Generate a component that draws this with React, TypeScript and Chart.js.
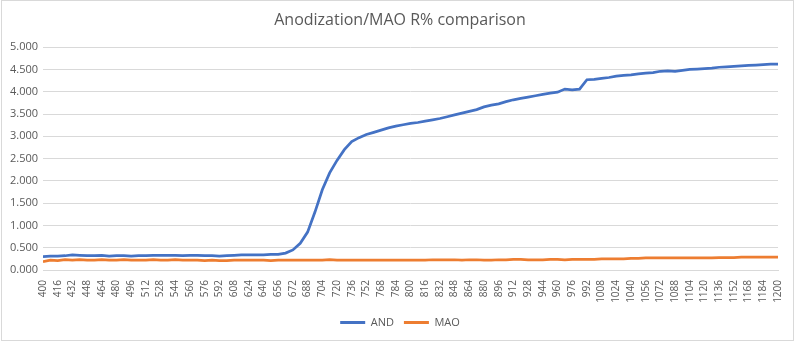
import React, { useEffect, useRef } from "react";
import { Chart, registerables } from "chart.js";

Chart.register(...registerables);

const TITLE = "Anodization/MAO R% comparison";

const WAVELENGTHS = [
  400, 408, 416, 424, 432, 440, 448, 456, 464, 472, 480, 488, 496, 504, 512, 520, 528, 536, 544, 552,
  560, 568, 576, 584, 592, 600, 608, 616, 624, 632, 640, 648, 656, 664, 672, 680, 688, 696, 704, 712,
  720, 728, 736, 744, 752, 760, 768, 776, 784, 792, 800, 808, 816, 824, 832, 840, 848, 856, 864, 872,
  880, 888, 896, 904, 912, 920, 928, 936, 944, 952, 960, 968, 976, 984, 992, 1000, 1008, 1016, 1024, 1032,
  1040, 1048, 1056, 1064, 1072, 1080, 1088, 1096, 1104, 1112, 1120, 1128, 1136, 1144, 1152, 1160, 1168, 1176, 1184, 1192,
  1200,
];

const AND = [
  0.30, 0.31, 0.31, 0.32, 0.34, 0.33, 0.32, 0.32, 0.33, 0.31, 0.32, 0.32, 0.31, 0.32, 0.32, 0.33, 0.33, 0.33, 0.33, 0.32,
  0.33, 0.33, 0.32, 0.32, 0.31, 0.32, 0.33, 0.34, 0.34, 0.34, 0.34, 0.35, 0.35, 0.38, 0.45, 0.60, 0.85, 1.30, 1.80, 2.18,
  2.46, 2.70, 2.88, 2.97, 3.04, 3.09, 3.14, 3.19, 3.23, 3.26, 3.29, 3.31, 3.34, 3.37, 3.40, 3.44, 3.48, 3.52, 3.56, 3.60,
  3.66, 3.70, 3.73, 3.78, 3.82, 3.85, 3.88, 3.91, 3.94, 3.97, 3.99, 4.06, 4.04, 4.06, 4.27, 4.28, 4.30, 4.32, 4.35, 4.37,
  4.38, 4.40, 4.42, 4.43, 4.46, 4.47, 4.46, 4.48, 4.50, 4.51, 4.52, 4.53, 4.55, 4.56, 4.57, 4.58, 4.59, 4.60, 4.61, 4.62,
  4.62,
];

const MAO = [
  0.19, 0.22, 0.21, 0.23, 0.22, 0.23, 0.22, 0.22, 0.23, 0.22, 0.22, 0.23, 0.22, 0.22, 0.22, 0.23, 0.22, 0.22, 0.23, 0.22,
  0.22, 0.22, 0.21, 0.22, 0.21, 0.21, 0.22, 0.22, 0.22, 0.22, 0.22, 0.21, 0.22, 0.22, 0.22, 0.22, 0.22, 0.22, 0.22, 0.23,
  0.22, 0.22, 0.22, 0.22, 0.22, 0.22, 0.22, 0.22, 0.22, 0.22, 0.22, 0.22, 0.22, 0.23, 0.23, 0.23, 0.23, 0.22, 0.23, 0.23,
  0.22, 0.22, 0.23, 0.23, 0.24, 0.24, 0.23, 0.23, 0.23, 0.24, 0.24, 0.23, 0.24, 0.24, 0.24, 0.24, 0.25, 0.25, 0.25, 0.25,
  0.26, 0.26, 0.27, 0.27, 0.27, 0.27, 0.27, 0.27, 0.27, 0.27, 0.27, 0.27, 0.28, 0.28, 0.28, 0.29, 0.29, 0.29, 0.29, 0.29,
  0.29,
];

const FONT = "'Open Sans', 'DejaVu Sans', sans-serif";
const TEXT = "#595959";
const GRID = "#d9d9d9";

export default function App() {
  const ref = useRef<HTMLCanvasElement | null>(null);

  useEffect(() => {
    const canvas = ref.current;
    if (!canvas) return;
    const chart = new Chart(canvas, {
      type: "line",
      data: {
        datasets: [
          {
            label: "AND",
            data: WAVELENGTHS.map((x, i) => ({ x, y: AND[i] })),
            borderColor: "#4472C4",
            backgroundColor: "#4472C4",
            borderWidth: 2.75,
            pointRadius: 0,
            tension: 0,
          },
          {
            label: "MAO",
            data: WAVELENGTHS.map((x, i) => ({ x, y: MAO[i] })),
            borderColor: "#ED7D31",
            backgroundColor: "#ED7D31",
            borderWidth: 2.75,
            pointRadius: 0,
            tension: 0,
          },
        ],
      },
      options: {
        responsive: false,
        animation: false,
        layout: { padding: { left: 0, right: 0, top: 0, bottom: 4 } },
        plugins: {
          title: {
            display: true,
            text: TITLE,
            color: TEXT,
            font: { family: FONT, size: 16, weight: "normal" },
            padding: { top: 11, bottom: 17 },
          },
          legend: {
            position: "bottom",
            labels: {
              boxWidth: 25,
              boxHeight: 3,
              color: TEXT,
              font: { family: FONT, size: 11 },
              padding: 10,
              generateLabels: (c: any) =>
                Chart.defaults.plugins.legend.labels
                  .generateLabels(c)
                  .map((l: any) => ({ ...l, lineWidth: 0 })),
            },
          },
          tooltip: { enabled: false },
        },
        scales: {
          x: {
            type: "linear",
            min: 400,
            max: 1200,
            ticks: {
              stepSize: 16,
              autoSkip: false,
              maxRotation: 90,
              minRotation: 90,
              color: TEXT,
              font: { family: FONT, size: 10 },
              padding: 10,
              callback: (v: any) => String(v),
            },
            grid: { display: false, drawTicks: false },
            border: { display: true, color: GRID },
            afterFit: (s: any) => {
              s.height = 37;
            },
          },
          y: {
            min: 0,
            max: 5,
            ticks: {
              stepSize: 0.5,
              color: TEXT,
              font: { family: FONT, size: 11 },
              padding: 5,
              callback: (v: any) => Number(v).toFixed(3),
            },
            grid: { color: GRID, drawTicks: false },
            border: { display: false },
            afterFit: (s: any) => {
              s.width = 43;
            },
          },
          yRight: {
            position: "right",
            display: true,
            min: 0,
            max: 5,
            ticks: { display: false },
            grid: { display: false, drawTicks: false },
            border: { display: false },
            afterFit: (s: any) => {
              s.width = 14;
            },
          },
        },
      },
    });
    return () => chart.destroy();
  }, []);

  return (
    <div style={{ position: "fixed", left: 0, top: 0, width: 800, height: 342, background: "#fff" }}>
      <div
        style={{
          position: "absolute",
          left: 1,
          top: 0,
          width: 793,
          height: 341,
          border: "1px solid #d9d9d9",
          boxSizing: "border-box",
        }}
      />
      <canvas ref={ref} width={800} height={342} style={{ position: "absolute", left: 0, top: 0 }} />
    </div>
  );
}
